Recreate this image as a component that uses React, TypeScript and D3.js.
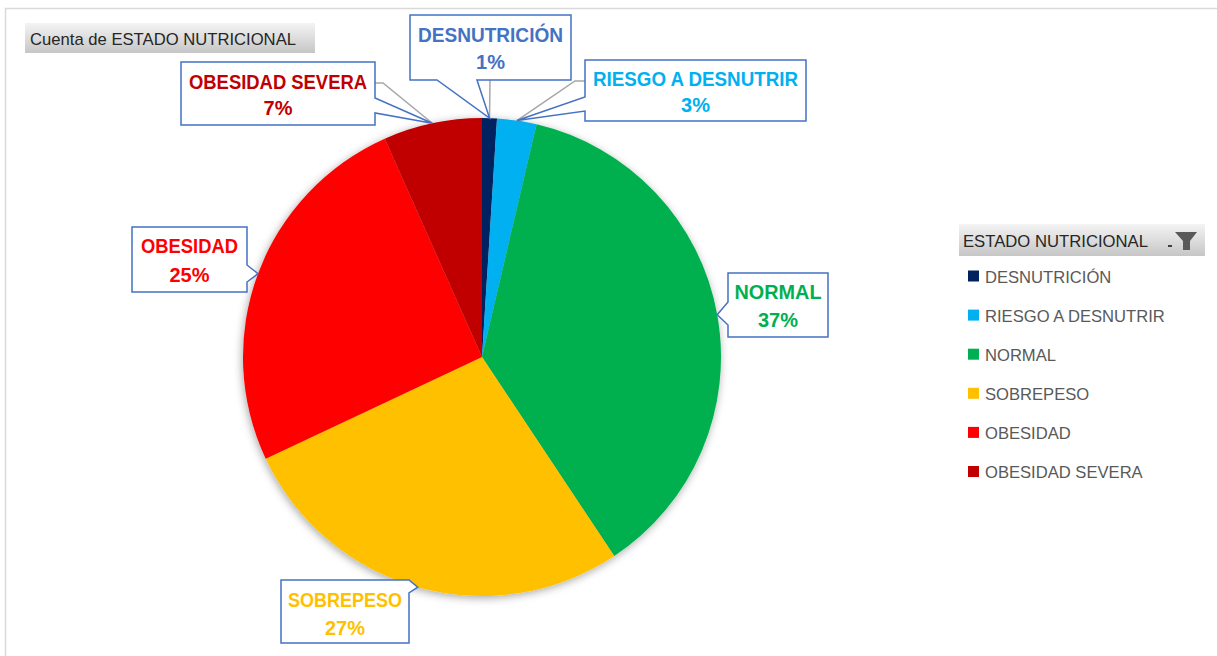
import React from 'react';
import * as d3 from 'd3';

const categories = ['DESNUTRICIÓN', 'RIESGO A DESNUTRIR', 'NORMAL', 'SOBREPESO', 'OBESIDAD', 'OBESIDAD SEVERA'];
const counts = [3, 8, 111, 82, 76, 20];
const sliceColors = ['#002060', '#00B0F0', '#00B050', '#FFC000', '#FF0000', '#C00000'];
const labelColors = ['#4472C4', '#00B0F0', '#00B050', '#FFC000', '#FF0000', '#C00000'];
const chartTitle = 'Cuenta de ESTADO NUTRICIONAL';
const legendTitle = 'ESTADO NUTRICIONAL';

// label layout (box + pointer side / base, leader elbow)
type Lay = { x0: number; y0: number; x1: number; y1: number; side: string; a: number; b: number; tw: number; b1: number; b2: number; leader?: number[] };
const layouts: Lay[] = [
  { x0: 410, y0: 15, x1: 571, y1: 80, side: 'bottom', a: 437, b: 477, tw: 145, b1: 42, b2: 69, leader: [490, 80] },
  { x0: 585, y0: 60, x1: 806, y1: 121, side: 'left', a: 97, b: 111, tw: 205, b1: 86, b2: 112, leader: [585, 81, 575, 81] },
  { x0: 728, y0: 273, x1: 828, y1: 337, side: 'left', a: 302, b: 325, tw: 87, b1: 299, b2: 327 },
  { x0: 281, y0: 580, x1: 409, y1: 643, side: 'right', a: 580, b: 593, tw: 114, b1: 607, b2: 635 },
  { x0: 132, y0: 227, x1: 247, y1: 292, side: 'right', a: 265, b: 282, tw: 97, b1: 253, b2: 282 },
  { x0: 181, y0: 62, x1: 375, y1: 125, side: 'right', a: 98, b: 113, tw: 178, b1: 89, b2: 115, leader: [375, 83, 383, 83] },
];

const cx = 482, cy = 357, R = 239;

function calloutPath(l: Lay, tx: number, ty: number) {
  const { x0, y0, x1, y1, a, b } = l;
  if (l.side === 'bottom') return `M${x0},${y0}H${x1}V${y1}H${b}L${tx},${ty}L${a},${y1}H${x0}Z`;
  if (l.side === 'left') return `M${x0},${y0}H${x1}V${y1}H${x0}V${b}L${tx},${ty}L${x0},${a}Z`;
  return `M${x0},${y0}H${x1}V${a}L${tx},${ty}L${x1},${b}V${y1}H${x0}Z`;
}

export default function App() {
  const total = d3.sum(counts);
  const pie = d3.pie<number>().sort(null).value((d) => d);
  const arcs = pie(counts);
  const arc = d3.arc<d3.PieArcDatum<number>>().innerRadius(0).outerRadius(R);
  const font = "'Liberation Sans', Arial, sans-serif";

  return (
    <svg width={1217} height={656} style={{ position: 'absolute', left: 0, top: 0, background: '#fff' }} fontFamily={font}>
      <defs>
        <linearGradient id="hdr" x1="0" y1="0" x2="0" y2="1">
          <stop offset="0" stopColor="#f4f4f4" />
          <stop offset="1" stopColor="#c6c6c6" />
        </linearGradient>
        <filter id="shadow" x="-20%" y="-20%" width="140%" height="140%">
          <feDropShadow dx="-1" dy="2" stdDeviation="4" floodColor="#000" floodOpacity="0.35" />
        </filter>
      </defs>
      <rect x={5.5} y={8.5} width={1300} height={700} fill="#fff" stroke="#d9d9d9" strokeWidth={1.5} />

      {/* title */}
      <rect x={25} y={23} width={290} height={30} fill="url(#hdr)" />
      <text x={30} y={45} fontSize={17} fill="#262626" textLength={266} lengthAdjust="spacingAndGlyphs">{chartTitle}</text>

      {/* pie */}
      <g transform={`translate(${cx},${cy})`}>
        <g filter="url(#shadow)">
          {arcs.map((d, i) => (
            <path key={i} d={arc(d) || ''} fill={sliceColors[i]} />
          ))}
        </g>
      </g>

      {/* labels */}
      {arcs.map((d, i) => {
        const l = layouts[i];
        const mid = (d.startAngle + d.endAngle) / 2;
        const tx = cx + R * Math.sin(mid);
        const ty = cy - R * Math.cos(mid);
        const pct = Math.round((counts[i] / total) * 100) + '%';
        const mx = (l.x0 + l.x1) / 2;
        let leader = null;
        if (l.leader) {
          const pts = [];
          for (let k = 0; k < l.leader.length; k += 2) pts.push([l.leader[k], l.leader[k + 1]]);
          pts.push([tx, ty]);
          leader = <polyline points={pts.map((p) => p.join(',')).join(' ')} fill="none" stroke="#a6a6a6" strokeWidth={1.5} />;
        }
        return (
          <g key={i}>
            {leader}
            <path d={calloutPath(l, tx, ty)} fill="#fff" stroke="#4472C4" strokeWidth={1.5} />
            <text x={mx} y={l.b1} textAnchor="middle" fontWeight="bold" fontSize={20} fill={labelColors[i]} textLength={l.tw} lengthAdjust="spacingAndGlyphs">{categories[i]}</text>
            <text x={mx} y={l.b2} textAnchor="middle" fontWeight="bold" fontSize={20} fill={labelColors[i]}>{pct}</text>
          </g>
        );
      })}

      {/* legend */}
      <rect x={959} y={224} width={246} height={32} fill="url(#hdr)" />
      <text x={963} y={247} fontSize={17} fill="#262626" textLength={185} lengthAdjust="spacingAndGlyphs">{legendTitle}</text>
      <rect x={1168} y={245} width={4} height={2} fill="#404040" />
      <path d="M1175,232H1197L1190,241V250H1183V241Z" fill="#595959" />
      {categories.map((c, i) => {
        const yc = 276 + i * 39.1;
        return (
          <g key={c}>
            <rect x={968} y={yc - 5.5} width={11} height={11} fill={sliceColors[i]} />
            <text x={985} y={yc + 6.5} fontSize={16.6} fill="#595959">{c}</text>
          </g>
        );
      })}
    </svg>
  );
}
